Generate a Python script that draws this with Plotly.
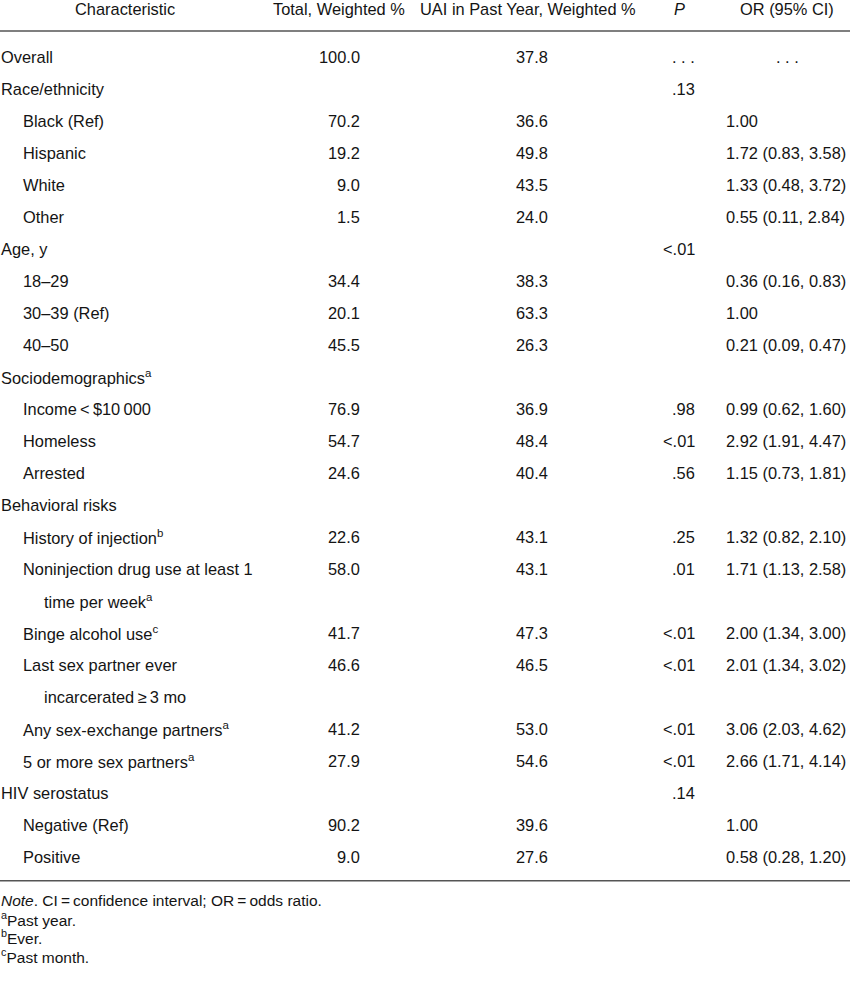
import plotly.graph_objects as go

# ---- data ----
headers = ["Characteristic", "Total, Weighted %", "UAI in Past Year, Weighted %", "<i>P</i>", "OR (95% CI)"]

labels = ["Overall", "Race/ethnicity", "Black (Ref)", "Hispanic", "White", "Other",
          "Age, y", "18–29", "30–39 (Ref)", "40–50",
          "Sociodemographics<sup>a</sup>", "Income\u2009<\u2009$10\u2009000", "Homeless", "Arrested",
          "Behavioral risks", "History of injection<sup>b</sup>", "Noninjection drug use at least 1",
          "time per week<sup>a</sup>", "Binge alcohol use<sup>c</sup>", "Last sex partner ever",
          "incarcerated\u2009≥\u20093 mo", "Any sex-exchange partners<sup>a</sup>",
          "5 or more sex partners<sup>a</sup>", "HIV serostatus", "Negative (Ref)", "Positive"]
indent = [0, 0, 1, 1, 1, 1, 0, 1, 1, 1, 0, 1, 1, 1, 0, 1, 1, 2, 1, 1, 2, 1, 1, 0, 1, 1]

total_pct = [100.0, None, 70.2, 19.2, 9.0, 1.5, None, 34.4, 20.1, 45.5, None, 76.9, 54.7, 24.6,
             None, 22.6, 58.0, None, 41.7, 46.6, None, 41.2, 27.9, None, 90.2, 9.0]
uai_pct = [37.8, None, 36.6, 49.8, 43.5, 24.0, None, 38.3, 63.3, 26.3, None, 36.9, 48.4, 40.4,
           None, 43.1, 43.1, None, 47.3, 46.5, None, 53.0, 54.6, None, 39.6, 27.6]
p_vals = ["...", ".13", "", "", "", "", "<.01", "", "", "", "", ".98", "<.01", ".56",
          "", ".25", ".01", "", "<.01", "<.01", "", "<.01", "<.01", ".14", "", ""]
or_est = ["...", None, 1.00, 1.72, 1.33, 0.55, None, 0.36, 1.00, 0.21, None, 0.99, 2.92, 1.15,
          None, 1.32, 1.71, None, 2.00, 2.01, None, 3.06, 2.66, None, 1.00, 0.58]
or_lo = [None, None, None, 0.83, 0.48, 0.11, None, 0.16, None, 0.09, None, 0.62, 1.91, 0.73,
         None, 0.82, 1.13, None, 1.34, 1.34, None, 2.03, 1.71, None, None, 0.28]
or_hi = [None, None, None, 3.58, 3.72, 2.84, None, 0.83, None, 0.47, None, 1.60, 4.47, 1.81,
         None, 2.10, 2.58, None, 3.00, 3.02, None, 4.62, 4.14, None, None, 1.20]

footnotes = ["<i>Note</i>. CI\u2009=\u2009confidence interval; OR\u2009=\u2009odds ratio.",
             "<sup>a</sup>Past year.", "<sup>b</sup>Ever.", "<sup>c</sup>Past month."]

# ---- layout constants ----
W, H = 850, 992
FONT = "Liberation Sans, Arial, sans-serif"
FS = 16.4
COLOR = "#141414"
ROW0, STEP = 57, 31.99
HEAD_Y, LINE1_Y = 9, 31
LINE2_Y = ROW0 + STEP * (len(labels) - 1) + 24
FOOT_Y0, FOOT_STEP = 900, 18.6

fig = go.Figure()
ann = []

def add(text, x, y, xanchor, size=FS):
    ann.append(dict(text=text, x=x, y=y, xref="x", yref="y", xanchor=xanchor, yanchor="middle",
                    showarrow=False, borderpad=0, font=dict(family=FONT, size=size, color=COLOR)))

# headers
head_x = [125, 339, 528, 679, 787]
for h, x in zip(headers, head_x):
    add(h, x, HEAD_Y, "center")

for i, lab in enumerate(labels):
    y = ROW0 + STEP * i
    add(lab, 0 + 21.5 * indent[i], y, "left")
    if total_pct[i] is not None:
        add(f"{total_pct[i]:.1f}", 361, y, "right")
    if uai_pct[i] is not None:
        add(f"{uai_pct[i]:.1f}", 549, y, "right")
    if p_vals[i] == "...":
        add(". . .", 683, y, "center")
    elif p_vals[i]:
        add(p_vals[i], 696, y, "right")
    e = or_est[i]
    if e == "...":
        add(". . .", 787, y, "center")
    elif e is not None:
        txt = f"{e:.2f}" if or_lo[i] is None else f"{e:.2f} ({or_lo[i]:.2f}, {or_hi[i]:.2f})"
        add(txt, 725, y, "left")

for k, f in enumerate(footnotes):
    add(f, 0, FOOT_Y0 + FOOT_STEP * k, "left", size=15.5)

fig.add_shape(type="line", x0=0, x1=W, y0=LINE1_Y, y1=LINE1_Y, xref="x", yref="y",
              line=dict(color="#555555", width=1.5))
fig.add_shape(type="line", x0=0, x1=W, y0=LINE2_Y, y1=LINE2_Y, xref="x", yref="y",
              line=dict(color="#555555", width=1.5))

fig.update_layout(
    width=W, height=H, margin=dict(l=0, r=0, t=0, b=0),
    paper_bgcolor="white", plot_bgcolor="white", annotations=ann, showlegend=False,
    xaxis=dict(range=[0, W], visible=False, fixedrange=True),
    yaxis=dict(range=[H, 0], visible=False, fixedrange=True),
)
fig.write_html("out.html", config={"displayModeBar": False},
               post_script="document.body.style.margin='0';document.body.style.overflow='hidden';")
